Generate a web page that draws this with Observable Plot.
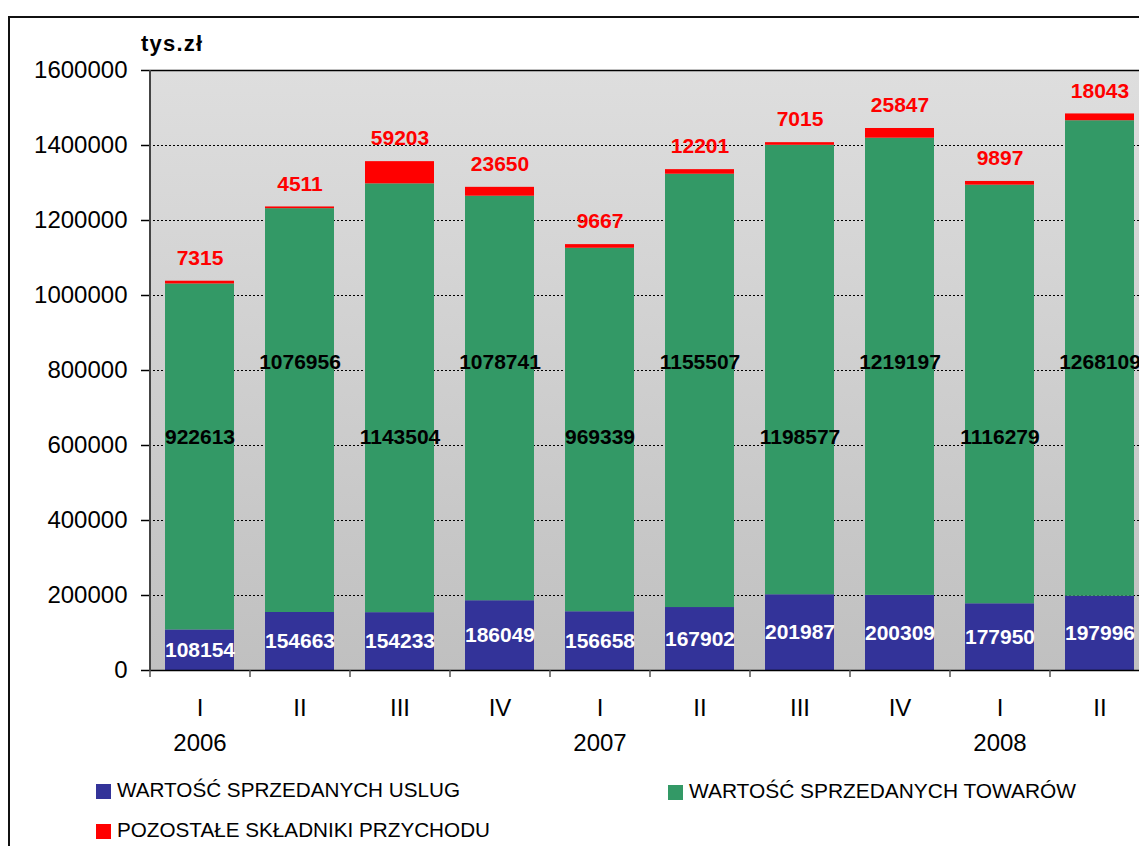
<!DOCTYPE html>
<html>
<head>
<meta charset="utf-8">
<script src="https://cdn.jsdelivr.net/npm/d3@7"></script>
<script src="https://cdn.jsdelivr.net/npm/@observablehq/plot@0.6"></script>
<style>
  html, body { margin: 0; padding: 0; background: #fff; overflow: hidden; width: 1139px; height: 846px; }
  #frameBorder { position: absolute; left: 8px; top: 16px; width: 1200px; height: 900px; border: 2px solid #111; box-sizing: border-box; }
  #chart { position: absolute; left: 0; top: 0; }
  #unit { position: absolute; left: 141px; top: 31px; font: bold 22px "Liberation Sans", Arial, sans-serif; letter-spacing: 1.2px; line-height: 26px; }
  #legend { position: absolute; left: 0; top: 770px; }
</style>
</head>
<body>
<div id="frameBorder"></div>
<div id="chart"></div>
<div id="unit">tys.zł</div>
<svg id="legend" width="1139" height="76"></svg>
<script>
// ---- data ----
const quarters = ["I", "II", "III", "IV", "I", "II", "III", "IV", "I", "II"];
const years = [2006, 2006, 2006, 2006, 2007, 2007, 2007, 2007, 2008, 2008];
const uslug = [108154, 154663, 154233, 186049, 156658, 167902, 201987, 200309, 177950, 197996];
const towarow = [922613, 1076956, 1143504, 1078741, 969339, 1155507, 1198577, 1219197, 1116279, 1268109];
const pozostale = [7315, 4511, 59203, 23650, 9667, 12201, 7015, 25847, 9897, 18043];
const seriesNames = ["WARTOŚĆ SPRZEDANYCH USLUG", "WARTOŚĆ SPRZEDANYCH TOWARÓW", "POZOSTAŁE SKŁADNIKI PRZYCHODU"];
const seriesColors = ["#333399", "#339966", "#ff0000"];
const yTicks = [0, 200000, 400000, 600000, 800000, 1000000, 1200000, 1400000, 1600000];

// ---- build table ----
const keys = quarters.map((q, i) => `${years[i]}-${q}`);
const seriesValues = [uslug, towarow, pozostale];
const rows = [];
keys.forEach((k, i) => {
  seriesValues.forEach((vals, s) => rows.push({key: k, series: seriesNames[s], value: vals[i]}));
});
const blueRows = keys.map((k, i) => ({key: k, value: uslug[i]}));
const greenRows = keys.map((k, i) => ({key: k, value: towarow[i], idx: i}));
const redRows = keys.map((k, i) => ({key: k, value: pozostale[i], total: uslug[i] + towarow[i] + pozostale[i]}));

const W = 1200, H = 760, ML = 149, MR = 51, MT = 70, MB = 90;
const step = (W - ML - MR) / keys.length;
const plotH = H - MT - MB;
const font = '"Liberation Sans", Arial, sans-serif';

const chart = Plot.plot({
  width: W, height: H,
  marginLeft: ML, marginRight: MR, marginTop: MT, marginBottom: MB,
  style: {fontFamily: font, fontSize: "24px", background: "transparent", maxWidth: "none", overflow: "visible", color: "#000"},
  x: {domain: keys, paddingInner: 0.31, paddingOuter: 0.155, label: null},
  y: {domain: [0, 1600000], label: null},
  color: {domain: seriesNames, range: seriesColors},
  marks: [
    Plot.frame({fill: "url(#bgGrad)", stroke: "none"}),
    Plot.ruleY(yTicks.slice(1, -1), {stroke: "#000", strokeWidth: 1, strokeDasharray: "2,2"}),
    Plot.barY(rows, Plot.stackY({x: "key", y: "value", fill: "series", z: "series", order: seriesNames})),
    Plot.ruleY([1600000], {stroke: "#000", strokeWidth: 1.5}),
    Plot.ruleY([0], {stroke: "#000", strokeWidth: 1.5}),
    // band-boundary ticks on the category axis
    Plot.ruleX(keys, {x: d => d, dx: -step / 2, insetTop: plotH, insetBottom: -7, stroke: "#555", strokeWidth: 1.5}),
    // left axis line
    Plot.ruleX([keys[0]], {x: d => d, dx: -step / 2, stroke: "#444", strokeWidth: 2}),
    Plot.axisY({ticks: yTicks, tickSize: 8, tickPadding: 14, tickFormat: d => String(d), fontSize: 24, stroke: "#000", strokeWidth: 1.5, label: null}),
    Plot.axisX({tickSize: 0, tickPadding: 28, tickFormat: k => quarters[keys.indexOf(k)], fontSize: 24, label: null}),
    Plot.axisX({tickSize: 0, tickPadding: 63, tickFormat: k => { const i = keys.indexOf(k); return quarters[i] === "I" ? String(years[i]) : ""; }, fontSize: 24, label: null}),
    // value labels
    Plot.text(blueRows, {x: "key", y: d => d.value / 2, text: d => String(d.value), fill: "#fff", fontWeight: "bold", fontSize: 21}),
    Plot.text(greenRows, {x: "key", y: d => d.idx % 2 === 0 ? 622000 : 822000, text: d => String(d.value), fill: "#000", fontWeight: "bold", fontSize: 21}),
    Plot.text(redRows, {x: "key", y: "total", dy: -23, text: d => String(d.value), fill: "#ff0000", fontWeight: "bold", fontSize: 21})
  ]
});

const defs = d3.select(chart).insert("defs", ":first-child");
const grad = defs.append("linearGradient").attr("id", "bgGrad").attr("x1", 0).attr("y1", 0).attr("x2", 0).attr("y2", 1);
grad.append("stop").attr("offset", "0%").attr("stop-color", "#dedede");
grad.append("stop").attr("offset", "100%").attr("stop-color", "#c0c0c0");
document.getElementById("chart").appendChild(chart);

// ---- legend ----
const legendPos = [[96, 14], [668, 15], [96, 54]];
const legendLen = [343, 387, 373];
const lg = d3.select("#legend");
seriesNames.forEach((name, i) => {
  const [lx, ly] = legendPos[i];
  lg.append("rect").attr("x", lx).attr("y", ly).attr("width", 15).attr("height", 15).attr("fill", seriesColors[i]);
  lg.append("text").attr("x", lx + 21).attr("y", ly + 12.5)
    .attr("font-family", font).attr("font-size", 21).attr("fill", "#000")
    .attr("textLength", legendLen[i]).attr("lengthAdjust", "spacingAndGlyphs")
    .text(name);
});
</script>
</body>
</html>
